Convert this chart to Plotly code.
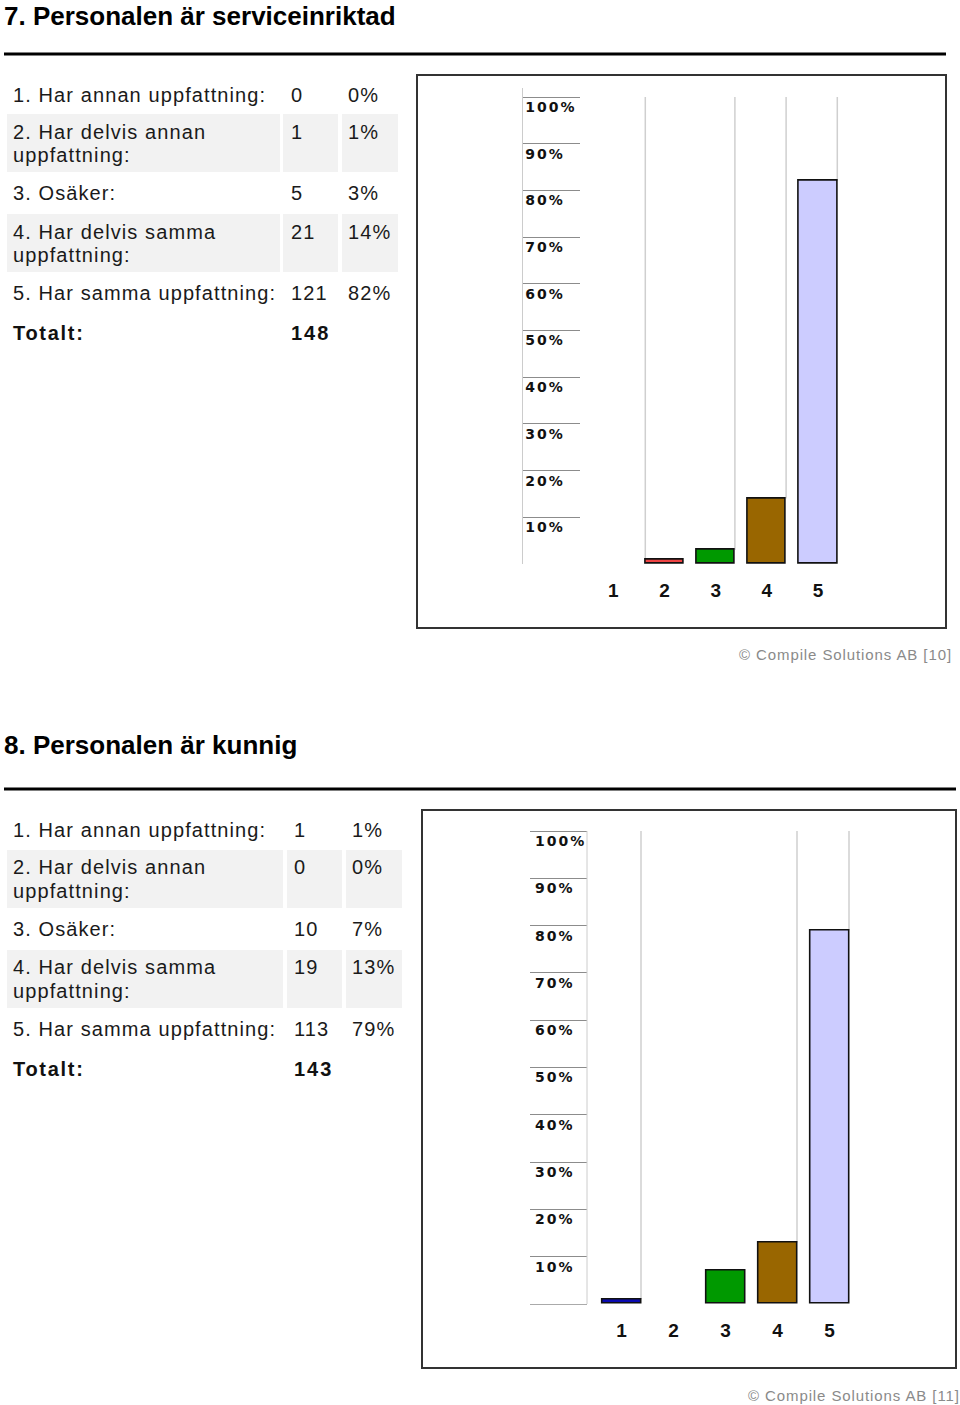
import plotly.graph_objects as go

W, H = 960, 1405

# ---------------- data ----------------
categories = [1, 2, 3, 4, 5]
answer_labels = [
    "1. Har annan uppfattning:",
    "2. Har delvis annan\nuppfattning:",
    "3. Osäker:",
    "4. Har delvis samma\nuppfattning:",
    "5. Har samma uppfattning:",
]
bar_colors = ["#0a0ab0", "#ee4444", "#009900", "#996600", "#ccccff"]
tick_values = [10, 20, 30, 40, 50, 60, 70, 80, 90, 100]
tick_labels = ["10%", "20%", "30%", "40%", "50%", "60%", "70%", "80%", "90%", "100%"]
total_label = "Totalt:"

q7_title = "7. Personalen är serviceinriktad"
q7_counts = [0, 1, 5, 21, 121]
q7_percent = [0, 1, 3, 14, 82]
q7_total = 148
q7_footer = "© Compile Solutions AB [10]"

q8_title = "8. Personalen är kunnig"
q8_counts = [1, 0, 10, 19, 113]
q8_percent = [1, 0, 7, 13, 79]
q8_total = 143
q8_footer = "© Compile Solutions AB [11]"

# ---------------- layout constants (pixels) ----------------
FONT = "Liberation Sans, Arial, sans-serif"
TICKFONT = "DejaVu Sans, Verdana, sans-serif"


def px(x):
    return x / W


def py(y):
    return 1 - y / H


def ls(text, sp):
    return f'<span style="letter-spacing:{sp}px">{text}</span>'


sections = [
    dict(title=q7_title, counts=q7_counts, pct=q7_percent, total=q7_total, footer=q7_footer,
         title_y=15.5, rule_y=54, rule_x=(4, 946), frame=(417, 75, 946, 628),
         tbl_top=76, row_h=[38, 58, 42, 58, 42, 38],
         cols=[(7, 280), (283, 338), (342, 398)], text_x=[11, 289, 346],
         y0=564, y100=97, cat1=613.3, step=51.2, bw=0.75,
         tick_x=(523, 580), tick_line="left", zero=False,
         shadows=[(2, -1), (3, 1), (4, 1), (5, 1)], footer_xy=(954, 654)),
    dict(title=q8_title, counts=q8_counts, pct=q8_percent, total=q8_total, footer=q8_footer,
         title_y=745, rule_y=789, rule_x=(4, 956), frame=(422, 810, 956, 1368),
         tbl_top=811, row_h=[39, 58, 42, 58, 42, 38],
         cols=[(7, 283), (287, 342), (346, 402)], text_x=[11, 292, 350],
         y0=1304, y100=831, cat1=621.5, step=52.0, bw=0.75,
         tick_x=(530, 587), tick_line="right", zero=True,
         shadows=[(1, 1), (4, 1), (5, 1)], footer_xy=(962, 1395)),
]

fig = go.Figure()
shapes = []
annotations = []
layout_axes = {}
YMAX = 102

for si, S in enumerate(sections):
    bx = "x" if si == 0 else f"x{2 * si + 1}"
    by = "y" if si == 0 else f"y{2 * si + 1}"
    tx = f"x{2 * si + 2}"
    ty = f"y{2 * si + 2}"
    bxk = "xaxis" if si == 0 else f"xaxis{2 * si + 1}"
    byk = "yaxis" if si == 0 else f"yaxis{2 * si + 1}"
    txk = f"xaxis{2 * si + 2}"
    tyk = f"yaxis{2 * si + 2}"

    ppu = (S["y0"] - S["y100"]) / 100
    ytop = S["y0"] - YMAX * ppu
    ydom = [py(S["y0"]), py(ytop)]
    xdom = [px(S["cat1"] - 0.5 * S["step"]), px(S["cat1"] + 4.5 * S["step"])]

    # bars
    fig.add_trace(go.Bar(
        x=categories, y=S["pct"], xaxis=bx, yaxis=by, width=S["bw"],
        marker=dict(color=bar_colors,
                    line=dict(color="#111111", width=[1.6 if v > 0 else 0 for v in S["pct"]])),
        hoverinfo="skip", showlegend=False))
    # tick-scale subplot (empty trace)
    fig.add_trace(go.Scatter(x=[None], y=[None], xaxis=tx, yaxis=ty, showlegend=False,
                             hoverinfo="skip"))

    layout_axes[bxk] = dict(domain=xdom, range=[0.5, 5.5], anchor=by, tickvals=categories,
                            ticktext=[str(c) for c in categories], showgrid=False,
                            zeroline=False, showline=False, ticks="outside", ticklen=9,
                            tickcolor="rgba(0,0,0,0)",
                            tickfont=dict(family=FONT, size=19, color="#111111",
                                          weight="bold"),
                            fixedrange=True)
    layout_axes[byk] = dict(domain=ydom, range=[0, YMAX], anchor=bx, visible=False,
                            fixedrange=True)
    layout_axes[txk] = dict(domain=[px(S["tick_x"][0]), px(S["tick_x"][1])], range=[0, 1],
                            anchor=ty, visible=False, fixedrange=True)
    layout_axes[tyk] = dict(domain=ydom, range=[0, YMAX], anchor=tx,
                            tickvals=tick_values,
                            ticktext=[ls(t, 2) for t in tick_labels],
                            ticklabelposition="inside", ticklabelshift=10,
                            ticklabelstandoff=2, ticks="",
                            tickfont=dict(family=TICKFONT, size=14, color="#111111",
                                          weight="bold"),
                            showgrid=True, gridcolor="#8c8c8c", gridwidth=1,
                            zeroline=S["zero"], zerolinecolor="#aaaaaa", zerolinewidth=1,
                            showline=(S["tick_line"] == "left"), linecolor="#cccccc",
                            linewidth=1, fixedrange=True)
    if S["tick_line"] == "right":
        shapes.append(dict(type="line", xref=f"{tx} domain", yref=ty, x0=1, x1=1,
                           y0=0, y1=100, line=dict(color="#cccccc", width=1)))

    # shadow lines of the pseudo-3D bars
    for cat, side in S["shadows"]:
        xe = cat + side * S["bw"] / 2
        shapes.append(dict(type="line", xref=bx, yref=by, x0=xe, x1=xe,
                           y0=S["pct"][cat - 1], y1=100,
                           line=dict(color="#cfcfcf", width=1.5), layer="below"))

    # chart frame
    fx0, fy0, fx1, fy1 = S["frame"]
    shapes.append(dict(type="rect", xref="paper", yref="paper", x0=px(fx0), x1=px(fx1),
                       y0=py(fy1), y1=py(fy0), line=dict(color="#333333", width=2)))

    # title & rule
    annotations.append(dict(xref="paper", yref="paper", x=px(3), y=py(S["title_y"]),
                            xanchor="left", yanchor="middle", showarrow=False, borderpad=0,
                            text=f"<b>{S['title']}</b>",
                            font=dict(family=FONT, size=26, color="#000000")))
    shapes.append(dict(type="line", xref="paper", yref="paper",
                       x0=px(S["rule_x"][0]), x1=px(S["rule_x"][1]),
                       y0=py(S["rule_y"]), y1=py(S["rule_y"]),
                       line=dict(color="#000000", width=3)))

    # table
    top = S["tbl_top"]
    for ri in range(6):
        h = S["row_h"][ri]
        cy = top + h / 2
        if ri < 5:
            lines = answer_labels[ri].split("\n")
            if ri % 2 == 1:
                for c0, c1 in S["cols"]:
                    shapes.append(dict(type="rect", xref="paper", yref="paper",
                                       x0=px(c0), x1=px(c1), y0=py(top + h), y1=py(top),
                                       fillcolor="#f2f2f2", line=dict(width=0),
                                       layer="below"))
            if len(lines) == 2:
                ys = [cy - 11.5, cy + 11.5]
            else:
                ys = [cy]
            for ln, yy in zip(lines, ys):
                annotations.append(dict(xref="paper", yref="paper", x=px(S["text_x"][0]),
                                        y=py(yy), xanchor="left", yanchor="middle",
                                        showarrow=False, text=ls(ln, 1.1),
                                        font=dict(family=FONT, size=20, color="#1a1a1a")))
            vals = [str(S["counts"][ri]), f"{S['pct'][ri]}%"]
            for vi, v in enumerate(vals):
                annotations.append(dict(xref="paper", yref="paper", x=px(S["text_x"][vi + 1]),
                                        y=py(ys[0]), xanchor="left", yanchor="middle",
                                        showarrow=False, text=ls(v, 1.1),
                                        font=dict(family=FONT, size=20, color="#1a1a1a")))
        else:
            annotations.append(dict(xref="paper", yref="paper", x=px(S["text_x"][0]),
                                    y=py(cy), xanchor="left", yanchor="middle",
                                    showarrow=False, text=f"<b>{ls(total_label, 1.7)}</b>",
                                    font=dict(family=FONT, size=20, color="#111111")))
            annotations.append(dict(xref="paper", yref="paper", x=px(S["text_x"][1]),
                                    y=py(cy), xanchor="left", yanchor="middle",
                                    showarrow=False, text=f"<b>{ls(str(S['total']), 2)}</b>",
                                    font=dict(family=FONT, size=20, color="#111111")))
        top += h

    # footer
    fxp, fyp = S["footer_xy"]
    annotations.append(dict(xref="paper", yref="paper", x=px(fxp), y=py(fyp),
                            xanchor="right", yanchor="middle", showarrow=False,
                            text=ls(S["footer"], 0.9),
                            font=dict(family=FONT, size=15, color="#8a8a8a")))

fig.update_layout(
    width=W, height=H, margin=dict(l=0, r=0, t=0, b=0, pad=0),
    paper_bgcolor="white", plot_bgcolor="rgba(0,0,0,0)",
    showlegend=False, bargap=0,
    shapes=shapes, annotations=annotations,
    **layout_axes,
)

fig.write_html("out.html", config={"displayModeBar": False})
